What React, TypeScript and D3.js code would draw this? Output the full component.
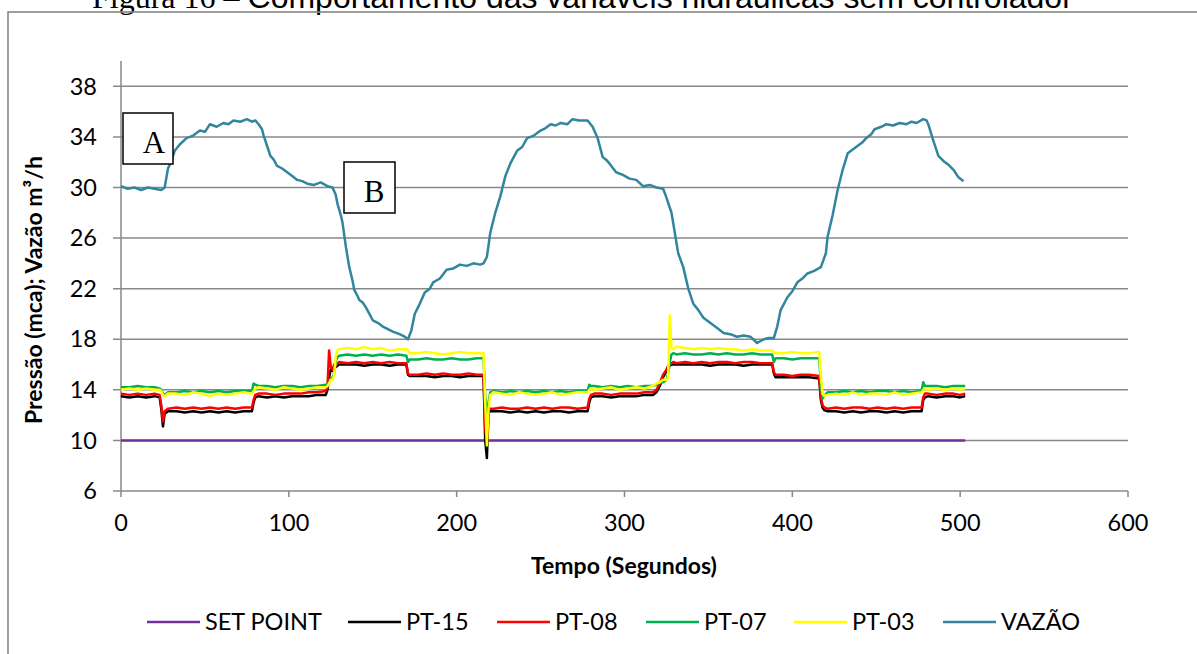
import React from 'react'
import * as d3 from 'd3'

const W = 1197
const H = 654

// eixo x / eixo y
const xTicks = [0, 100, 200, 300, 400, 500, 600]
const yTicks = [6, 10, 14, 18, 22, 26, 30, 34, 38]

// set point
const tempoSP = [0, 503]
const setPoint = [10, 10]

// tempo das leituras de pressão (s)
const tempoP = [
  0, 5, 10, 15, 20, 23,
  24, 25, 26, 28,
  33, 38, 43, 48, 53, 58, 63, 68, 73, 78,
  79, 80, 82,
  87, 92, 97, 102, 107, 112, 117, 122,
  123, 124, 125, 126, 127, 128, 129, 130,
  135, 140, 145, 150, 155, 160, 165, 170,
  171, 172,
  177, 182, 187, 192, 197, 202, 207, 212, 216,
  217, 218, 219, 220, 222,
  227, 232, 237, 242, 247, 252, 257, 262, 267, 272, 278,
  279, 280, 282,
  287, 292, 297, 302, 307, 312, 317,
  319, 321, 323, 325, 326, 327, 328, 329, 331,
  336, 341, 346, 351, 356, 361, 366, 371, 376, 381, 388,
  389, 390,
  395, 400, 405, 410, 416,
  417, 418, 419, 421,
  426, 431, 436, 441, 446, 451, 456, 461, 466, 471, 477,
  478, 479, 481,
  486, 491, 496, 500, 503,
]

const pt15 = [
  13.5, 13.4, 13.5, 13.4, 13.5, 13.4,
  12.5, 11.1, 12.1, 12.3,
  12.3, 12.2, 12.3, 12.2, 12.3, 12.2, 12.3, 12.2, 12.3, 12.3,
  13.0, 13.4, 13.5,
  13.4, 13.5, 13.4, 13.5, 13.5, 13.5, 13.6, 13.6,
  14.0, 15.0, 15.6, 15.5, 15.8, 15.8, 15.9, 16.0,
  16.0, 16.0, 15.9, 16.0, 16.0, 15.9, 16.0, 16.0,
  15.2, 15.1,
  15.1, 15.1, 15.0, 15.1, 15.1, 15.0, 15.1, 15.1, 15.1,
  10.0, 8.6, 12.2, 12.3, 12.3,
  12.3, 12.2, 12.3, 12.2, 12.3, 12.2, 12.3, 12.3, 12.2, 12.3, 12.3,
  13.0, 13.4, 13.5,
  13.5, 13.4, 13.5, 13.5, 13.5, 13.6, 13.6,
  13.8, 14.3, 15.0, 15.5, 15.8, 15.9, 16.0, 16.0, 16.0,
  16.0, 16.0, 16.0, 15.9, 16.0, 16.0, 16.0, 15.9, 16.0, 16.0, 16.0,
  15.3, 15.0,
  15.0, 15.0, 15.0, 15.0, 14.9,
  13.2, 12.6, 12.4, 12.3,
  12.3, 12.2, 12.3, 12.2, 12.3, 12.3, 12.2, 12.3, 12.2, 12.3, 12.3,
  13.2, 13.4, 13.5,
  13.4, 13.5, 13.5, 13.4, 13.5,
]

const pt08 = [
  13.7, 13.6, 13.7, 13.6, 13.7, 13.6,
  12.8, 11.5, 12.3, 12.5,
  12.6, 12.5, 12.6, 12.5, 12.6, 12.5, 12.6, 12.5, 12.6, 12.6,
  13.2, 13.6, 13.7,
  13.7, 13.6, 13.7, 13.7, 13.7, 13.8, 13.8, 13.9,
  14.2, 17.1, 15.8, 15.6, 16.0, 15.9, 16.1, 16.2,
  16.1, 16.2, 16.1, 16.2, 16.1, 16.2, 16.1, 16.1,
  15.3, 15.2,
  15.2, 15.3, 15.2, 15.3, 15.2, 15.2, 15.3, 15.2, 15.2,
  11.0, 9.9, 12.4, 12.5, 12.5,
  12.6, 12.5, 12.5, 12.6, 12.5, 12.6, 12.5, 12.6, 12.6, 12.5, 12.6,
  13.3, 13.6, 13.7,
  13.7, 13.6, 13.7, 13.7, 13.7, 13.8, 13.8,
  14.0, 14.5, 15.2, 15.6, 15.9, 16.0, 16.1, 16.2, 16.1,
  16.2, 16.1, 16.2, 16.1, 16.2, 16.2, 16.1, 16.2, 16.2, 16.1, 16.1,
  15.4, 15.2,
  15.2, 15.1, 15.2, 15.2, 15.1,
  13.4, 12.8, 12.6, 12.5,
  12.6, 12.5, 12.6, 12.6, 12.5, 12.6, 12.5, 12.6, 12.5, 12.6, 12.6,
  13.4, 13.7, 13.7,
  13.6, 13.7, 13.7, 13.6, 13.7,
]

const pt07 = [
  14.2, 14.2, 14.3, 14.2, 14.2, 14.1,
  14.0, 13.7, 13.6, 13.8,
  13.8, 13.9, 13.8, 13.9, 13.8, 13.9, 13.8, 13.9, 13.9, 13.9,
  14.5, 14.4, 14.3,
  14.3, 14.2, 14.3, 14.3, 14.2, 14.3, 14.3, 14.4,
  14.4, 14.6, 14.9, 15.0, 15.3, 16.3, 16.6, 16.7,
  16.8, 16.7, 16.8, 16.7, 16.8, 16.7, 16.8, 16.7,
  16.2, 16.4,
  16.4, 16.5, 16.4, 16.4, 16.5, 16.4, 16.4, 16.5, 16.5,
  13.5, 12.0, 13.0, 13.8, 13.9,
  13.8, 13.9, 13.8, 13.9, 13.8, 13.9, 13.8, 13.9, 13.8, 13.9, 13.9,
  14.4, 14.3, 14.3,
  14.2, 14.3, 14.2, 14.3, 14.2, 14.3, 14.3,
  14.4, 14.6, 14.6, 14.8, 15.3, 16.2, 16.8, 16.9, 16.8,
  16.9, 16.8, 16.8, 16.9, 16.8, 16.9, 16.8, 16.8, 16.9, 16.8, 16.8,
  16.2, 16.5,
  16.5, 16.4, 16.5, 16.5, 16.5,
  14.5, 13.3, 13.5, 13.8,
  13.8, 13.9, 13.8, 13.9, 13.8, 13.9, 13.9, 13.8, 13.9, 13.8, 13.9,
  14.6, 14.3, 14.3,
  14.3, 14.2, 14.3, 14.3, 14.3,
]

const pt03 = [
  14.0, 14.1, 14.0, 14.1, 14.0, 14.0,
  13.9, 13.6, 13.5, 13.7,
  13.7, 13.6, 13.8, 13.7, 13.5, 13.7, 13.6, 13.7, 13.8, 13.7,
  13.9, 14.1, 14.2,
  14.1, 14.0, 14.2, 14.1, 14.0, 14.1, 14.2, 14.2,
  14.3, 14.5, 14.8, 14.8, 15.2, 16.6, 17.1, 17.2,
  17.3, 17.2, 17.4, 17.2, 17.3, 17.1, 17.2, 17.2,
  17.1, 16.9,
  16.9, 17.0, 16.9, 16.8, 16.9, 17.0, 16.9, 16.9, 16.9,
  13.0, 9.6, 12.5, 13.6, 13.8,
  13.7, 13.6, 13.8, 13.7, 13.6, 13.7, 13.8, 13.6, 13.7, 13.8, 13.8,
  14.0, 14.1, 14.0,
  14.1, 14.2, 14.0, 14.1, 14.2, 14.1, 14.3,
  14.5, 14.6, 14.8, 14.8, 15.0, 19.9, 17.3, 17.2, 17.4,
  17.3, 17.2, 17.3, 17.2, 17.3, 17.2, 17.2, 17.1, 17.2, 17.1, 17.1,
  17.0, 16.9,
  16.9, 17.0, 16.9, 16.9, 17.0,
  15.0, 13.7, 13.5, 13.6,
  13.7, 13.6, 13.8, 13.6, 13.7, 13.7, 13.6, 13.8, 13.6, 13.7, 13.8,
  14.0, 14.1, 14.0,
  14.1, 14.0, 14.1, 14.0, 14.1,
]

// vazão (m3/h)
const tempoQ = [
  0, 4, 8, 12, 16, 20, 24, 26, 28, 30,
  32, 35, 39, 43, 47, 50, 53, 57, 61, 64,
  67, 71, 75, 78, 80, 82, 84, 85, 87, 89,
  91, 93, 96, 99, 102, 105, 108, 111, 115, 119,
  123, 126, 128, 129, 131, 132, 134, 136, 138, 139,
  141, 142, 144, 146, 148, 150, 153, 156, 159, 162,
  166, 169, 171, 173, 175, 178, 181, 184, 186, 190,
  194, 198, 202, 206, 210, 214, 216, 218, 220, 223,
  226, 229, 232, 236, 239, 242, 246, 250, 253, 256,
  259, 262, 266, 269, 273, 278, 281, 284, 287, 289,
  291, 295, 299, 303, 307, 311, 315, 319, 323, 325,
  328, 330, 332, 335, 338, 341, 344, 347, 350, 353,
  356, 359, 363, 367, 371, 375, 379, 383, 386, 389,
  391, 393, 395, 397, 400, 403, 406, 409, 413, 417,
  420, 421, 424, 427, 430, 433, 436, 439, 442, 444,
  447, 449, 453, 456, 460, 464, 468, 471, 474, 478,
  480, 481, 484, 487, 490, 493, 496, 499, 502,
]

const vazao = [
  30.1, 29.9, 30.0, 29.8, 30.0, 29.9, 29.8, 30.0, 31.5, 32.1,
  32.9, 33.4, 33.9, 34.1, 34.5, 34.4, 35.0, 34.8, 35.1, 35.0,
  35.3, 35.2, 35.4, 35.2, 35.3, 35.0, 34.6, 34.1, 33.3, 32.5,
  32.2, 31.7, 31.5, 31.2, 30.9, 30.6, 30.5, 30.3, 30.2, 30.4,
  30.1, 30.0, 29.4, 28.7, 27.8, 27.2, 25.3, 23.7, 22.6, 21.9,
  21.4, 21.1, 20.9, 20.5, 20.0, 19.5, 19.3, 19.0, 18.8, 18.6,
  18.4, 18.2, 18.0, 18.7, 20.0, 20.8, 21.7, 22.0, 22.5, 22.8,
  23.5, 23.6, 23.9, 23.8, 24.0, 23.9, 24.0, 24.5, 26.4, 28.0,
  29.3, 30.9, 31.9, 32.9, 33.2, 33.9, 34.1, 34.5, 34.7, 35.0,
  34.9, 35.1, 35.0, 35.4, 35.3, 35.3, 34.8, 33.9, 32.4, 32.2,
  31.9, 31.2, 31.0, 30.7, 30.6, 30.1, 30.2, 30.0, 29.9, 29.2,
  28.0, 26.4, 24.8, 23.7, 22.0, 20.8, 20.3, 19.7, 19.4, 19.1,
  18.8, 18.5, 18.4, 18.2, 18.3, 18.2, 17.7, 18.0, 18.1, 18.1,
  19.0, 20.3, 20.8, 21.3, 21.8, 22.5, 22.8, 23.2, 23.4, 23.7,
  24.8, 26.1, 27.8, 29.8, 31.4, 32.7, 33.0, 33.3, 33.6, 33.9,
  34.2, 34.6, 34.8, 35.0, 34.9, 35.1, 35.0, 35.2, 35.1, 35.4,
  35.3, 35.0, 33.7, 32.5, 32.1, 31.8, 31.4, 30.8, 30.5,
]

const series = [
  { name: 'SET POINT', color: '#7030A0', t: tempoSP, v: setPoint },
  { name: 'PT-15', color: '#000000', t: tempoP, v: pt15 },
  { name: 'PT-08', color: '#FF0000', t: tempoP, v: pt08 },
  { name: 'PT-07', color: '#00B050', t: tempoP, v: pt07 },
  { name: 'PT-03', color: '#FFFF00', t: tempoP, v: pt03 },
  { name: 'VAZÃO', color: '#31859C', t: tempoQ, v: vazao },
]

// posição das entradas da legenda
const legendX = [147, 348, 497, 646, 794, 943]

const chartFont = 'Lato, "Open Sans", sans-serif'

export default function App() {
  const x = d3.scaleLinear().domain([0, 600]).range([121, 1128])
  const y = d3.scaleLinear().domain([6, 40]).range([491, 61])
  const line = d3.line<[number, number]>().x(d => x(d[0])).y(d => y(d[1]))

  const grid = '#888888'

  return (
    <div style={{ position: 'absolute', left: 0, top: 0 }}>
      <svg width={W} height={H} style={{ display: 'block', background: '#fff' }}>
        {/* título (cortado no topo) */}
        <text x={92} y={8} fontSize={32} fill="#000">
          <tspan fontFamily='"Liberation Serif", serif'>Figura 16 – </tspan>
          <tspan fontFamily='"Liberation Sans", Arial, sans-serif'>Comportamento das variáveis hidráulicas sem controlador</tspan>
        </text>
        <rect x={8} y={12} width={1400} height={800} fill="none" stroke="#878787" strokeWidth={1.6} />

        {/* grade */}
        {yTicks.map(v => (
          <g key={v}>
            <line x1={113} x2={x(600)} y1={y(v)} y2={y(v)} stroke={grid} strokeWidth={1.5} />
            <text x={97} y={y(v)} dy="0.35em" textAnchor="end" fontFamily={chartFont} fontSize={23.5} fill="#000">{v}</text>
          </g>
        ))}
        <line x1={x(0)} x2={x(0)} y1={y(40)} y2={y(6)} stroke={grid} strokeWidth={1.5} />
        {xTicks.map(t => (
          <g key={t}>
            <line x1={x(t)} x2={x(t)} y1={y(6)} y2={y(6) + 6} stroke={grid} strokeWidth={1.5} />
            <text x={x(t)} y={y(6) + 40} textAnchor="middle" fontFamily={chartFont} fontSize={23.5} fill="#000">{t}</text>
          </g>
        ))}

        {/* séries */}
        {series.map(s => (
          <path key={s.name} d={line(d3.zip(s.t, s.v) as [number, number][]) || ''}
            fill="none" stroke={s.color} strokeWidth={2.5} strokeLinejoin="round" />
        ))}

        {/* caixas A e B */}
        <rect x={123} y={113} width={50} height={51} fill="#fff" stroke="#000" strokeWidth={1.5} />
        <text x={154} y={153} textAnchor="middle" fontFamily='"Liberation Serif", serif' fontSize={31}>A</text>
        <rect x={344} y={162} width={51} height={51} fill="#fff" stroke="#000" strokeWidth={1.5} />
        <text x={374} y={202} textAnchor="middle" fontFamily='"Liberation Serif", serif' fontSize={31}>B</text>

        {/* títulos dos eixos */}
        <text transform="translate(42,290) rotate(-90)" textAnchor="middle" fontFamily={chartFont}
          fontWeight="bold" fontSize={23} fill="#000">Pressão (mca); Vazão m³/h</text>
        <text x={624} y={574} textAnchor="middle" fontFamily={chartFont} fontWeight="bold" fontSize={23} fill="#000">Tempo (Segundos)</text>

        {/* legenda */}
        {series.map((s, i) => (
          <g key={s.name} transform={`translate(${legendX[i]},622)`}>
            <line x1={0} x2={53} y1={0} y2={0} stroke={s.color} strokeWidth={2.5} />
            <text x={58} y={0} dy="0.35em" fontFamily={chartFont} fontSize={23.5} fill="#000">{s.name}</text>
          </g>
        ))}
      </svg>
    </div>
  )
}
